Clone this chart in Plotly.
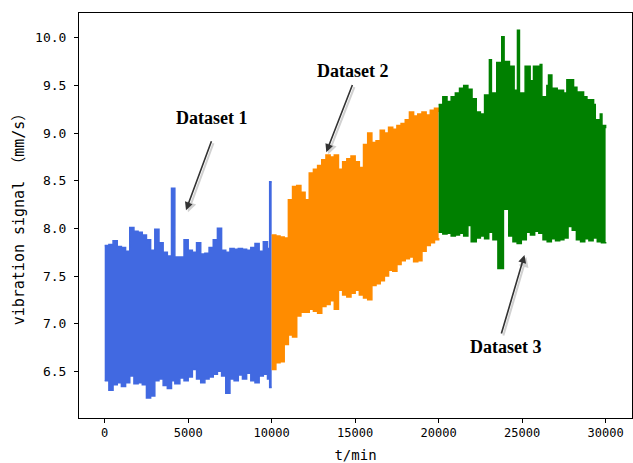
import plotly.graph_objects as go

# ---- Dataset 1 (blue) envelope ----
d1_x = [0, 250, 500, 750, 1000, 1250, 1500, 1750, 2000, 2250, 2500, 2750, 3000, 3250, 3500, 3750,
        4000, 4200, 4500, 4750, 5000, 5250, 5500, 5750, 6000, 6250, 6500, 6750, 7000, 7250, 7500,
        7750, 8000, 8250, 8500, 8750, 9000, 9250, 9500, 9750, 9880, 10000]
d1_upper = [7.82, 7.83, 7.87, 7.81, 7.80, 7.76, 8.01, 7.97, 7.96, 7.93, 7.88, 7.77, 7.99, 7.85, 7.75, 7.71,
            8.42, 7.70, 7.70, 7.88, 7.77, 7.75, 7.85, 7.73, 7.74, 7.80, 7.88, 8.00, 7.77, 7.75, 7.79,
            7.78, 7.79, 7.78, 7.77, 7.80, 7.84, 7.76, 7.86, 7.79, 8.49, 8.49]
d1_lower = [6.40, 6.30, 6.36, 6.38, 6.34, 6.38, 6.45, 6.37, 6.38, 6.36, 6.22, 6.24, 6.40, 6.42, 6.35, 6.32,
            6.40, 6.37, 6.43, 6.40, 6.44, 6.52, 6.42, 6.38, 6.42, 6.44, 6.47, 6.50, 6.45, 6.27, 6.42,
            6.40, 6.46, 6.42, 6.48, 6.40, 6.38, 6.45, 6.47, 6.42, 6.33, 6.33]

# ---- Dataset 2 (orange) ----
d2_x = [10000, 10250, 10500, 10750, 11000, 11250, 11500, 11750, 12000, 12250, 12500, 12750, 13000,
        13250, 13500, 13750, 14000, 14250, 14500, 14750, 15000, 15250, 15500, 15750, 16000, 16250,
        16500, 16750, 17000, 17250, 17500, 17750, 18000, 18250, 18500, 18750, 19000, 19250, 19500,
        19750, 20000]
d2_upper = [7.93, 7.92, 7.91, 7.90, 8.30, 8.44, 8.45, 8.38, 8.30, 8.58, 8.62, 8.66, 8.72,
            8.77, 8.75, 8.77, 8.62, 8.70, 8.73, 8.76, 8.70, 8.64, 8.88, 9.00, 8.90, 8.92,
            9.03, 9.00, 9.06, 9.04, 9.08, 9.10, 9.14, 9.22, 9.18, 9.20, 9.22, 9.19, 9.24,
            9.26, 9.22]
d2_lower = [6.52, 6.59, 6.60, 6.78, 6.88, 6.86, 7.08, 7.12, 7.12, 7.15, 7.13, 7.11, 7.18,
            7.20, 7.24, 7.15, 7.35, 7.30, 7.28, 7.32, 7.35, 7.30, 7.27, 7.25, 7.40, 7.42,
            7.45, 7.50, 7.56, 7.55, 7.62, 7.66, 7.68, 7.70, 7.65, 7.66, 7.76, 7.82, 7.85,
            7.88, 7.90]

# ---- Dataset 3 (green) ----
d3_up_x = [20000, 20250, 20500, 20750, 21000, 21250, 21500, 21750, 22000, 22250, 22500, 22750,
           23040, 23160, 23480, 23780, 23920, 24240, 24520, 24720, 24840, 25180, 25480, 25680,
           26080, 26180, 26480, 26580, 26780, 27100, 27480, 27680, 28080, 28280, 28680, 28880,
           29280, 29380, 29680, 29780, 30000]
d3_upper = [9.30, 9.38, 9.33, 9.38, 9.42, 9.47, 9.50, 9.46, 9.36, 9.22, 9.20, 9.40,
            9.77, 9.42, 9.74, 10.01, 9.75, 9.70, 9.45, 10.08, 9.42, 9.70, 9.55, 9.70,
            9.72, 9.38, 9.50, 9.61, 9.47, 9.45, 9.42, 9.56, 9.48, 9.43, 9.38, 9.35,
            9.30, 9.14, 9.20, 9.08, 9.05]
d3_lo_x = [20000, 20250, 20500, 20750, 21000, 21250, 21500, 21750, 21950, 22250, 22500, 22750,
           23000, 23250, 23550, 23880, 24200, 24450, 24700, 24950, 25250, 25500, 25750, 26000,
           26250, 26500, 26750, 27000, 27250, 27500, 27750, 28000, 28250, 28500, 28750, 29000,
           29250, 29500, 29750, 30000]
d3_lower = [7.96, 7.94, 7.95, 7.92, 7.93, 7.95, 7.92, 8.03, 7.86, 7.90, 7.92, 7.89,
            7.96, 7.88, 7.58, 8.20, 7.92, 7.86, 7.84, 7.88, 7.96, 7.93, 7.97, 7.95,
            7.88, 7.86, 7.89, 7.87, 7.88, 7.90, 8.02, 7.98, 7.88, 7.86, 7.89, 7.87,
            7.90, 7.86, 7.85, 7.84]

series = [
    ("Dataset 1", d1_x, d1_upper, d1_x, d1_lower, "#4169E1"),
    ("Dataset 2", d2_x, d2_upper, d2_x, d2_lower, "#FF8C00"),
    ("Dataset 3", d3_up_x, d3_upper, d3_lo_x, d3_lower, "#008000"),
]

# annotation positions (data coords): text pos, arrow tail, arrow head
ann_labels = ["Dataset 1", "Dataset 2", "Dataset 3"]
ann_text_xy = [(6425, 9.16), (14868, 9.65), (24030, 6.76)]
ann_tail_xy = [(6425, 8.93), (14868, 9.52), (23731, 6.88)]
ann_head_xy = [(4868, 8.19), (13270, 8.80), (25140, 7.72)]

fig = go.Figure()
for name, ux, uy, lx, ly, col in series:
    fig.add_trace(go.Scatter(x=lx, y=ly, mode="lines", line=dict(color=col, width=1.5, shape="hv"),
                             showlegend=False, hoverinfo="skip"))
    fig.add_trace(go.Scatter(x=ux, y=uy, mode="lines", line=dict(color=col, width=1.5, shape="hv"),
                             fill="tonexty", fillcolor=col, showlegend=False, name=name))

annotations = []
for lab, (tx, ty), (ax, ay), (hx, hy) in zip(ann_labels, ann_text_xy, ann_tail_xy, ann_head_xy):
    # shadow
    annotations.append(dict(x=hx, y=hy, ax=ax, ay=ay, xref="x", yref="y", axref="x", ayref="y",
                            text="", showarrow=True, arrowhead=2, arrowsize=1, arrowwidth=2,
                            arrowcolor="rgba(190,190,190,0.7)", xshift=2, yshift=-2))
    annotations.append(dict(x=hx, y=hy, ax=ax, ay=ay, xref="x", yref="y", axref="x", ayref="y",
                            text="", showarrow=True, arrowhead=2, arrowsize=1, arrowwidth=1.6,
                            arrowcolor="#333333"))
    annotations.append(dict(x=tx, y=ty, xref="x", yref="y", text="<b>%s</b>" % lab, showarrow=False,
                            font=dict(family="Liberation Serif", size=18, color="black")))

fig.update_layout(
    width=633, height=463,
    margin=dict(l=79, r=1, t=13, b=45),
    paper_bgcolor="white", plot_bgcolor="white",
    annotations=annotations,
    showlegend=False,
)
fig.update_xaxes(range=[-1540, 31580], tickvals=[0, 5000, 10000, 15000, 20000, 25000, 30000],
                 ticktext=["0", "5000", "10000", "15000", "20000", "25000", "30000"],
                 showline=True, mirror=True, linecolor="black", linewidth=1,
                 ticks="outside", ticklen=4, tickcolor="black", showgrid=False, zeroline=False,
                 tickfont=dict(family="DejaVu Sans Mono", size=12, color="black"),
                 title=dict(text="t/min", font=dict(family="DejaVu Sans Mono", size=14, color="black"),
                            standoff=11),
                 automargin=False)
fig.update_yaxes(range=[6.01, 10.26], tickvals=[6.5, 7.0, 7.5, 8.0, 8.5, 9.0, 9.5, 10.0],
                 ticktext=["6.5", "7.0", "7.5", "8.0", "8.5", "9.0", "9.5", "10.0"],
                 showline=True, mirror=True, linecolor="black", linewidth=1,
                 ticks="outside", ticklen=4, tickcolor="black", showgrid=False, zeroline=False,
                 ticklabelstandoff=5,
                 tickfont=dict(family="DejaVu Sans Mono", size=13, color="black"),
                 title=dict(text="vibration signal （mm/s）",
                            font=dict(family="DejaVu Sans Mono, Noto Sans CJK SC", size=15, color="black"),
                            standoff=6),
                 automargin=False)

fig.write_html("out.html")
